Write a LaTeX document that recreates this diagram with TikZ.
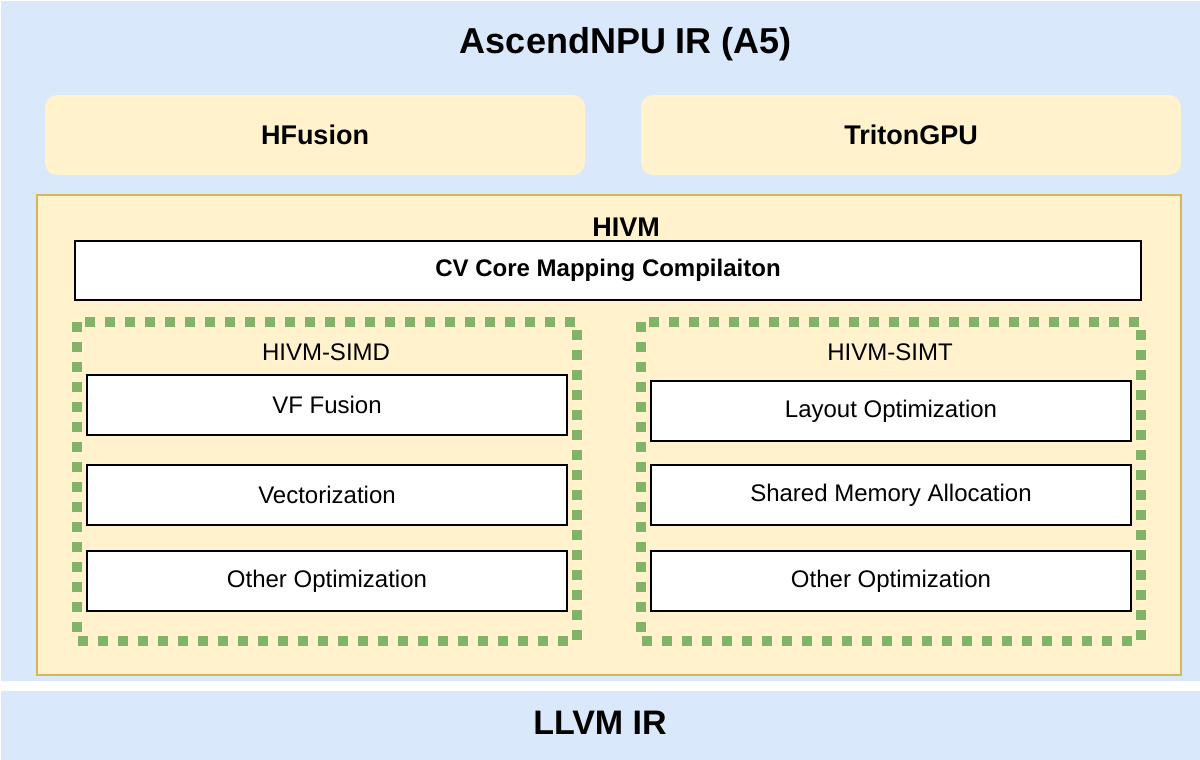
\documentclass[tikz,border=0pt]{standalone}
\usepackage{fontspec}
\setmainfont{Liberation Sans}
\usetikzlibrary{positioning}
\definecolor{irblue}{HTML}{DAE8FC}
\definecolor{dialectfill}{HTML}{FFF2CC}
\definecolor{dialectedge}{HTML}{D6B656}
\definecolor{simdgreen}{HTML}{82B366}
\tikzset{
  dialect/.style={fill=dialectfill, rounded corners=12pt, minimum width=540pt, minimum height=80pt, inner sep=0pt, font=\fontsize{27}{30}\selectfont\bfseries},
  passbox/.style={draw=black, line width=2pt, fill=white, minimum width=480pt, minimum height=60pt, inner sep=0pt, font=\fontsize{24}{28}\selectfont},
  dotbox/.style={draw=simdgreen, line width=10pt, dash pattern=on 10pt off 10pt},
}

\begin{document}
\begin{tikzpicture}[x=1pt, y=-1pt]
      \useasboundingbox[fill=white] (0,0) rectangle (1200,760);
      \fill[irblue] (1,1) rectangle (1200,681);
      \fill[irblue] (1,691) rectangle (1200,760);
      \node (ascend) at (626,44) {\fontsize{36}{40}\selectfont\bfseries AscendNPU IR (A5)};
      \node[dialect] (hfusion) at (315,135) {HFusion};
      \node[dialect] (tritongpu) at (911,135) {TritonGPU};
      \draw[dialectedge, fill=dialectfill, line width=2pt] (37,195) rectangle (1181,675);
      \node (hivm) at (626,227) {\fontsize{27}{30}\selectfont\bfseries HIVM};
      \node[passbox, minimum width=1066pt, minimum height=59pt, font=\fontsize{24}{28}\selectfont\bfseries] (cvcore) at (608,270.5) {CV Core Mapping Compilaiton};
      \draw[dotbox] (77,322) rectangle (577,641);
      \draw[dotbox] (641,322) rectangle (1141,641);
      \node (simd) at (326,352) {\fontsize{24}{28}\selectfont HIVM-SIMD};
      \node (simt) at (890,352) {\fontsize{24}{28}\selectfont HIVM-SIMT};
      \foreach \y/\txt [count = \i] in {405/VF Fusion, 495/Vectorization, 581/Other Optimization}{
        \node[passbox] (simdpass\i) at (327,\y) {\txt};
        }
      \foreach \y/\txt [count = \i] in {411/Layout Optimization, 495/Shared Memory Allocation, 581/Other Optimization}{
        \node[passbox] (simtpass\i) at (891,\y) {\txt};
        }
      \node (llvm) at (600,723) {\fontsize{34}{38}\selectfont\bfseries LLVM IR};
    \end{tikzpicture}
\end{document}
